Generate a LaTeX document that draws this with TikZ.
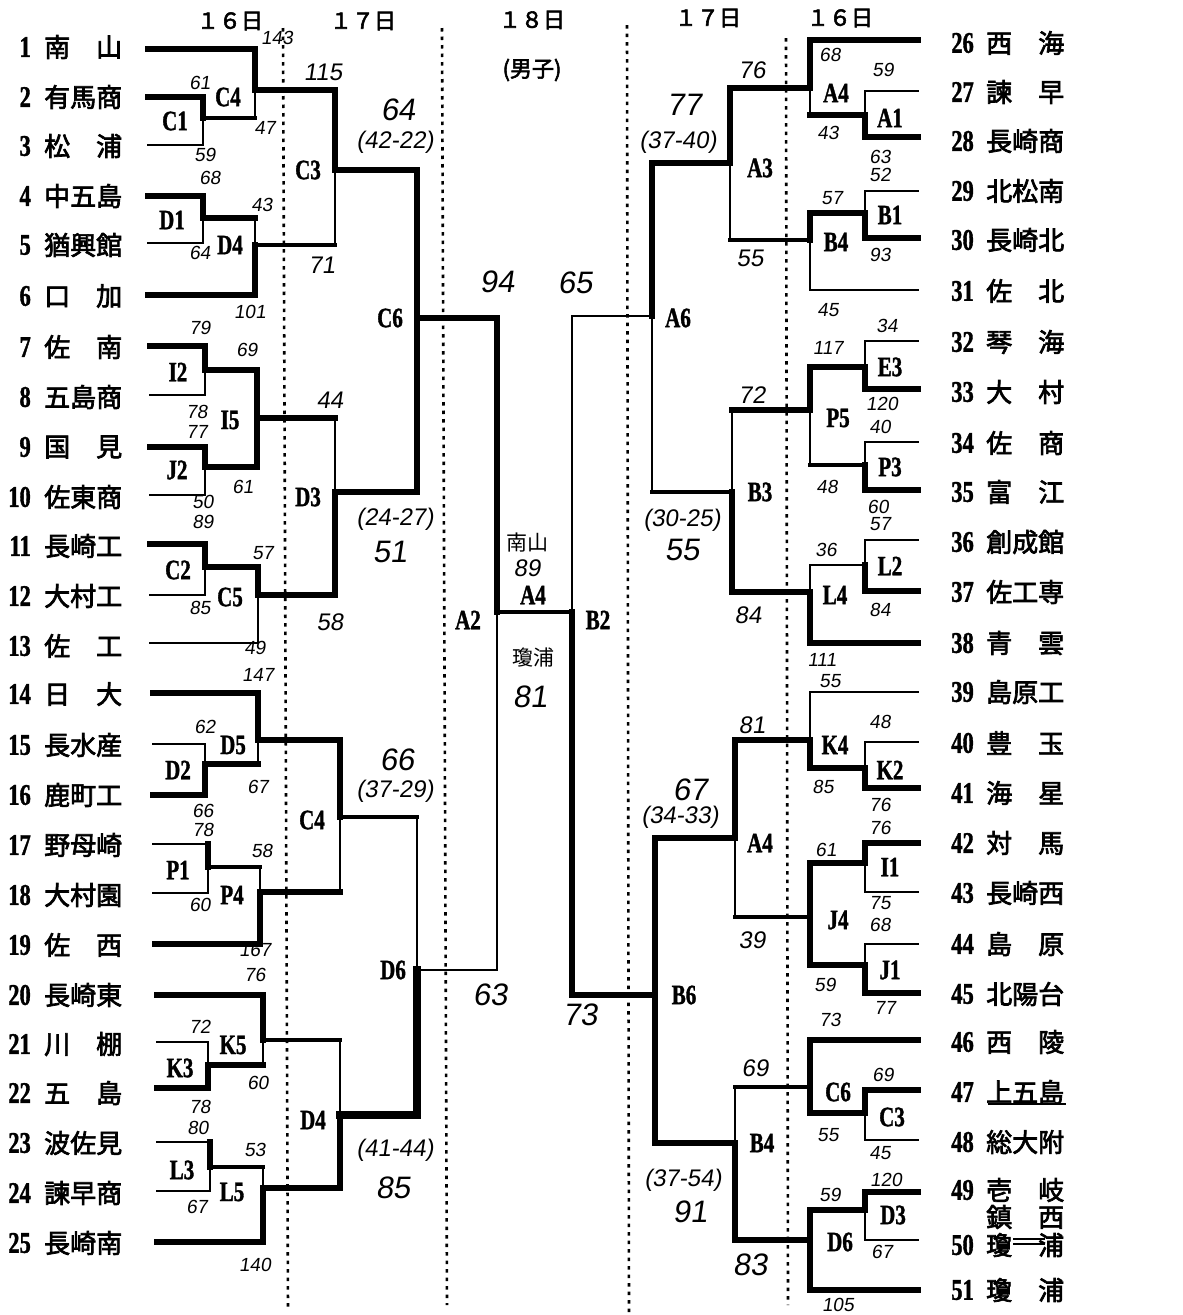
\documentclass[tikz,border=0pt]{standalone}
\usepackage{fontspec}
\newfontfamily\jp{Noto Sans CJK JP}[FakeBold=2.6]
\newfontfamily\jpr{Noto Sans CJK JP}
\newfontfamily\lab{Liberation Serif}[FakeStretch=0.75,FakeBold=1.2]
\newfontfamily\hw{Liberation Sans}[FakeSlant=0.15]
\begin{document}
\begin{tikzpicture}[x=1pt,y=-1pt,
 thk/.style={line width=6pt,line cap=rect},
 vthk/.style={line width=7.5pt,line cap=rect},
 med/.style={line width=3.5pt,line cap=rect},
 thn/.style={line width=1.8pt,line cap=rect},
 dotl/.style={line width=2.6pt,dash pattern=on 3.5pt off 5pt},
 tnum/.style={font=\lab\bfseries\fontsize{30}{30}\selectfont,inner sep=0,anchor=east},
 tnm/.style={font=\jp\fontsize{26}{26}\selectfont,inner sep=0,anchor=west},
 ml/.style={font=\lab\bfseries\fontsize{28}{28}\selectfont,inner sep=0},
 ss/.style={font=\hw\fontsize{19}{19}\selectfont,inner sep=0},
 sm/.style={font=\hw\fontsize{24}{24}\selectfont,inner sep=0},
 sl/.style={font=\hw\fontsize{31}{31}\selectfont,inner sep=0},
 hd/.style={font=\jp\fontsize{22}{22}\selectfont,inner sep=0},
 hwj/.style={font=\jpr\fontsize{21}{21}\selectfont,inner sep=0},
]
\useasboundingbox[fill=white] (0,0) rectangle (1183,1315);

% headers
\node[hd] (h1) at (230,21) {１６日};
\node[hd] (h2) at (363,21) {１７日};
\node[hd] (h3) at (532,20) {１８日};
\node[hd] (h4) at (532,70) {(男子)};
\node[hd] (h5) at (708,18) {１７日};
\node[hd] (h6) at (840,18) {１６日};

% dotted day separators
\draw[dotl] (283,28) -- (288,1310);
\draw[dotl] (442,28) -- (447,1305);
\draw[dotl] (627,25) -- (629,1315);
\draw[dotl] (786,38) -- (788,1305);

% teams left
\foreach \n/\nm/\y in {1/南　山/47,2/有馬商/97,3/松　浦/146,4/中五島/196,5/猶興館/245,6/口　加/296,7/佐　南/347,8/五島商/397,9/国　見/447,10/佐東商/497,11/長崎工/546,12/大村工/596,13/佐　工/646,14/日　大/694,15/長水産/745,16/鹿町工/795,17/野母崎/845,18/大村園/895,19/佐　西/945,20/長崎東/995,21/川　棚/1044,22/五　島/1093,23/波佐見/1143,24/諫早商/1193,25/長崎南/1243}
{\node[tnum] (n\n) at (31,\y) {\n}; \node[tnm] (t\n) at (44,\y) {\nm};}
% teams right
\foreach \n/\nm/\y in {26/西　海/43,27/諫　早/92,28/長崎商/141,29/北松南/191,30/長崎北/240,31/佐　北/291,32/琴　海/342,33/大　村/392,34/佐　商/443,35/富　江/492,36/創成館/542,37/佐工専/592,38/青　雲/643,39/島原工/692,40/豊　玉/743,41/海　星/793,42/対　馬/843,43/長崎西/893,44/島　原/944,45/北陽台/994,46/西　陵/1042,47/上五島/1092,48/総大附/1142,49/壱　岐/1190,50/瓊　浦/1245,51/瓊　浦/1290}
{\node[tnum] (n\n) at (974,\y) {\n}; \node[tnm] (t\n) at (986,\y) {\nm};}
\node[tnm] (t50b) at (986,1217) {鎮　西};
\draw[line width=1.2pt] (1013,1239) -- (1045,1239) (1013,1244) -- (1045,1244);
\draw[line width=1.2pt] (988,1104) -- (1066,1104);

% ---------- left bracket ----------
\draw[thk] (148,49) -- (255,49) -- (255,90) -- (335,90) -- (335,170) -- (417,170) -- (417,318) -- (497,318);
\draw[thn] (255,90) -- (255,118);
\draw[thk] (148,97) -- (203,97) -- (203,118);
\draw[thn] (203,118) -- (203,145) -- (148,145);
\draw[med] (203,118) -- (255,118);
\draw[thn] (335,170) -- (335,245);
\draw[thk] (148,196) -- (203,196) -- (203,218) -- (255,218);
\draw[thn] (203,218) -- (203,243) -- (148,243);
\draw[thn] (255,218) -- (255,245);
\draw[thk] (148,295) -- (255,295) -- (255,245);
\draw[med] (255,245) -- (335,245);
\draw[thk] (417,318) -- (417,492);

\draw[thk] (150,346) -- (205,346) -- (205,370) -- (257,370) -- (257,418) -- (335,418);
\draw[thn] (205,370) -- (205,395) -- (150,395);
\draw[thk] (150,447) -- (205,447) -- (205,467) -- (257,467) -- (257,418);
\draw[thn] (205,467) -- (205,495) -- (150,495);
\draw[thn] (335,418) -- (335,492);
\draw[thk] (335,595) -- (335,492) -- (417,492);
\draw[thk] (150,544) -- (205,544) -- (205,567) -- (258,567) -- (258,595) -- (335,595);
\draw[thn] (205,567) -- (205,595) -- (150,595);
\draw[thn] (258,595) -- (258,643) -- (150,643);

\draw[thk] (153,693) -- (258,693) -- (258,740) -- (340,740) -- (340,817);
\draw[thn] (258,740) -- (258,764);
\draw[thn] (153,744) -- (205,744) -- (205,764);
\draw[thk] (153,795) -- (205,795) -- (205,764) -- (258,764);
\draw[thn] (153,844) -- (208,844);
\draw[thk] (208,844) -- (208,867);
\draw[med] (208,867) -- (260,867);
\draw[thn] (208,867) -- (208,893) -- (153,893);
\draw[thn] (260,867) -- (260,892);
\draw[thk] (155,944) -- (260,944) -- (260,892) -- (340,892);
\draw[thn] (340,817) -- (340,892);
\draw[med] (340,817) -- (417,817);
\draw[thn] (417,817) -- (417,970);
\draw[vthk] (417,970) -- (417,1115) -- (340,1115);
\draw[line width=2.4pt] (417,970) -- (497,970);

\draw[thk] (157,995) -- (263,995) -- (263,1040);
\draw[med] (263,1040) -- (340,1040);
\draw[thn] (263,1040) -- (263,1065);
\draw[thn] (157,1042) -- (208,1042) -- (208,1065);
\draw[thk] (157,1088) -- (208,1088) -- (208,1065) -- (263,1065);
\draw[thn] (157,1142) -- (210,1142);
\draw[thk] (210,1142) -- (210,1167);
\draw[med] (210,1167) -- (263,1167);
\draw[thn] (210,1167) -- (210,1191) -- (157,1191);
\draw[thn] (263,1167) -- (263,1188);
\draw[thk] (157,1242) -- (263,1242) -- (263,1188) -- (340,1188);
\draw[thn] (340,1040) -- (340,1115);
\draw[thk] (340,1115) -- (340,1188);

% ---------- centre ----------
\draw[thk] (497,318) -- (497,612);
\draw[thn] (497,612) -- (497,970);
\draw[med] (497,612) -- (572,612);
\draw[thn] (652,316) -- (572,316) -- (572,612);
\draw[thk] (572,612) -- (572,995) -- (655,995);

% ---------- right bracket ----------
\draw[thk] (918,40) -- (810,40) -- (810,88) -- (730,88) -- (730,163) -- (652,163) -- (652,316);
\draw[thn] (810,88) -- (810,115);
\draw[thn] (918,91) -- (865,91) -- (865,115);
\draw[thk] (918,137) -- (865,137) -- (865,115) -- (810,115);
\draw[thn] (730,163) -- (730,240);
\draw[thn] (918,191) -- (865,191) -- (865,213);
\draw[thk] (918,238) -- (865,238) -- (865,213) -- (810,213) -- (810,240);
\draw[med] (810,240) -- (730,240);
\draw[thn] (810,240) -- (810,290) -- (918,290);
\draw[thn] (652,316) -- (652,492);

\draw[thn] (918,341) -- (865,341) -- (865,367);
\draw[thk] (918,389) -- (865,389) -- (865,367) -- (810,367) -- (810,410) -- (732,410);
\draw[thn] (810,410) -- (810,465);
\draw[thn] (918,442) -- (865,442) -- (865,465);
\draw[thk] (918,490) -- (865,490) -- (865,465);
\draw[med] (865,465) -- (810,465);
\draw[thn] (732,410) -- (732,492);
\draw[thk] (732,592) -- (732,492);
\draw[med] (732,492) -- (652,492);
\draw[thn] (918,540) -- (865,540);
\draw[thk] (918,591) -- (865,591) -- (865,565);
\draw[thn] (865,540) -- (865,565) -- (810,565) -- (810,592);
\draw[thk] (918,643) -- (810,643) -- (810,592) -- (732,592);

\draw[thn] (918,692) -- (810,692) -- (810,740);
\draw[thn] (918,742) -- (865,742) -- (865,768);
\draw[thk] (918,788) -- (865,788) -- (865,768) -- (810,768) -- (810,740) -- (735,740) -- (735,838) -- (655,838) -- (655,1143);
\draw[thn] (735,838) -- (735,917);
\draw[thk] (918,843) -- (865,843) -- (865,863) -- (810,863) -- (810,917);
\draw[med] (810,917) -- (735,917);
\draw[thn] (865,863) -- (865,892) -- (918,892);
\draw[thn] (918,944) -- (865,944) -- (865,965);
\draw[thk] (918,993) -- (865,993) -- (865,965) -- (810,965) -- (810,917);

\draw[thk] (918,1040) -- (810,1040) -- (810,1087);
\draw[med] (810,1087) -- (735,1087);
\draw[thk] (810,1087) -- (810,1113) -- (865,1113) -- (865,1090) -- (918,1090);
\draw[thn] (865,1113) -- (865,1140) -- (918,1140);
\draw[thn] (735,1087) -- (735,1143);
\draw[thk] (735,1240) -- (735,1143) -- (655,1143);
\draw[thk] (918,1192) -- (865,1192) -- (865,1210) -- (810,1210) -- (810,1240) -- (735,1240);
\draw[thn] (865,1210) -- (865,1240) -- (918,1240);
\draw[thk] (810,1240) -- (810,1290) -- (918,1290);

% ---------- match labels ----------
\foreach \x/\y/\t [count=\i] in {228/97/C4,175/121/C1,308/170/C3,172/220/D1,230/245/D4,390/318/C6,178/372/I2,230/420/I5,177/470/J2,308/497/D3,178/570/C2,230/597/C5,233/745/D5,178/770/D2,312/820/C4,178/870/P1,232/895/P4,393/970/D6,233/1045/K5,180/1068/K3,313/1120/D4,182/1170/L3,232/1192/L5,468/620/A2,598/620/B2,533/595/A4,836/93/A4,890/118/A1,760/168/A3,890/215/B1,836/242/B4,678/318/A6,890/367/E3,838/418/P5,890/467/P3,760/492/B3,890/566/L2,835/595/L4,835/745/K4,890/770/K2,760/843/A4,890/867/I1,838/920/J4,890/970/J1,684/995/B6,838/1092/C6,892/1117/C3,762/1143/B4,893/1215/D3,840/1242/D6}
{\node[ml] (m\i) at (\x,\y) {\t};}

% ---------- scores ----------
\foreach \x/\y/\t [count=\i] in {277/38/143,200/83/61,265/128/47,205/155/59,210/178/68,262/205/43,200/253/64,250/312/101,200/328/79,247/350/69,197/412/78,197/432/77,243/487/61,203/502/50,203/522/89,263/553/57,200/608/85,255/648/49,258/675/147,205/727/62,258/787/67,203/811/66,203/830/78,262/851/58,200/905/60,255/950/167,255/975/76,200/1027/72,258/1083/60,200/1107/78,198/1128/80,255/1150/53,197/1207/67,255/1265/140,830/55/68,883/70/59,828/133/43,880/157/63,880/175/52,832/198/57,880/255/93,828/310/45,887/326/34,828/348/117,882/404/120,880/427/40,827/487/48,878/507/60,880/524/57,826/550/36,880/610/84,822/660/111,830/681/55,880/722/48,823/787/85,880/805/76,880/828/76,826/850/61,880/903/75,880/925/68,825/985/59,885/1008/77,830/1020/73,883/1075/69,828/1135/55,880/1153/45,886/1180/120,830/1195/59,882/1252/67,838/1305/105}
{\node[ss] (s\i) at (\x,\y) {\t};}
\foreach \x/\y/\t [count=\i] in {323/72/115,395/142/(42-22),322/265/71,330/400/44,395/519/(24-27),330/622/58,395/791/(37-29),395/1150/(41-44),527/568/89,752/70/76,678/142/(37-40),750/258/55,752/395/72,682/520/(30-25),748/615/84,752/725/81,680/817/(34-33),752/940/39,755/1068/69,683/1180/(37-54)}
{\node[sm] (q\i) at (\x,\y) {\t};}
\foreach \x/\y/\t [count=\i] in {398/110/64,390/552/51,397/760/66,393/1188/85,497/282/94,575/283/65,530/697/81,490/995/63,580/1015/73,684/105/77,682/550/55,690/790/67,690/1212/91,750/1265/83}
{\node[sl] (b\i) at (\x,\y) {\t};}
\node[hwj] (w1) at (527,543) {南山};
\node[hwj] (w2) at (533,657) {瓊浦};
\end{tikzpicture}
\end{document}
